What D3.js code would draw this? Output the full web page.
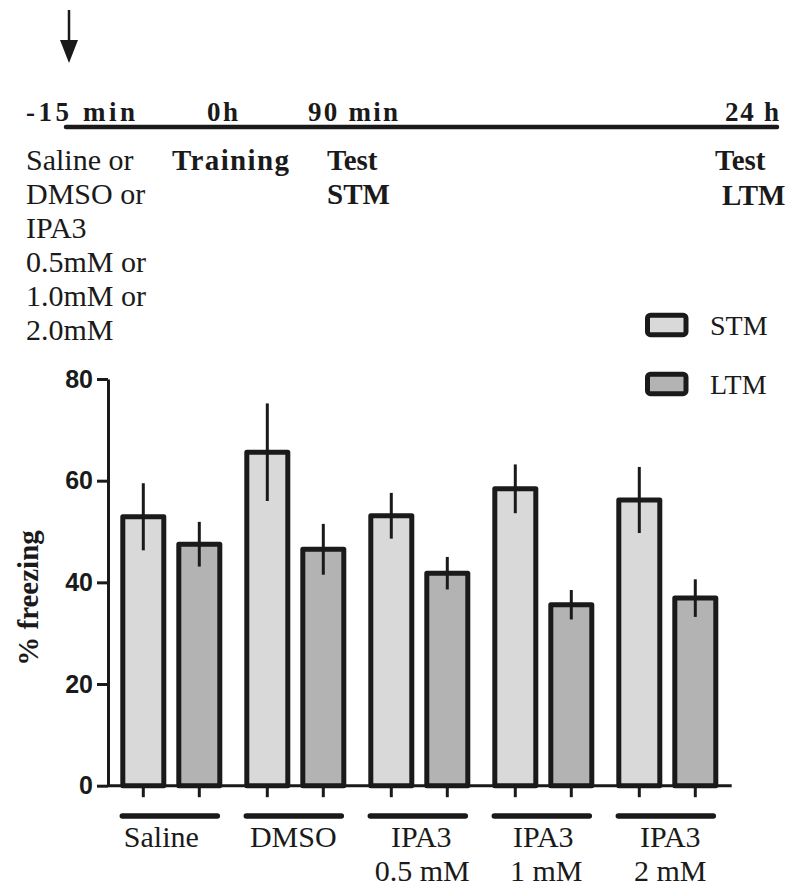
<!DOCTYPE html>
<html>
<head>
<meta charset="utf-8">
<script src="https://cdn.jsdelivr.net/npm/d3@7"></script>
<style>
  html, body { margin: 0; padding: 0; background: #ffffff; }
  svg { display: block; }
</style>
</head>
<body>
<svg id="chart" width="792" height="891"></svg>
<script>
// ---------- data ----------
const groups = ["Saline", "DMSO", "IPA3 0.5 mM", "IPA3 1 mM", "IPA3 2 mM"];
const groupLine1 = ["Saline", "DMSO", "IPA3", "IPA3", "IPA3"];
const groupLine2 = ["", "", "0.5 mM", "1 mM", "2 mM"];
const series = ["STM", "LTM"];
const stmMean = [52.9, 65.6, 53.1, 58.4, 56.2];
const stmSem  = [6.6, 9.6, 4.5, 4.8, 6.5];
const ltmMean = [47.5, 46.5, 41.8, 35.6, 36.9];
const ltmSem  = [4.4, 5.0, 3.2, 2.9, 3.7];
const yTicks = [0, 20, 40, 60, 80];
const yLabel = "% freezing";

// timeline texts
const timeMarks = ["-15 min", "0h", "90 min", "24 h"];
const treatmentLines = ["Saline or", "DMSO or", "IPA3", "0.5mM or", "1.0mM or", "2.0mM"];

const serif = "'Liberation Serif', 'Times New Roman', Times, serif";
const sans = "'Liberation Sans', Arial, Helvetica, sans-serif";
const fills = { STM: "#d9d9d9", LTM: "#b3b3b3" };
const ink = "#1a1a1a";

const svg = d3.select("#chart");

// ---------- timeline schematic ----------
const tl = svg.append("g");
tl.append("line").attr("x1", 69).attr("x2", 69).attr("y1", 10).attr("y2", 44)
  .attr("stroke", ink).attr("stroke-width", 2.5);
tl.append("path").attr("d", "M60,40 L78,40 L69,63 Z").attr("fill", ink);
tl.append("line").attr("x1", 66).attr("x2", 777).attr("y1", 127).attr("y2", 127)
  .attr("stroke", ink).attr("stroke-width", 4.5).attr("stroke-linecap", "round");

const markPos = [
  {x: 26, len: 109},
  {x: 207, len: 31},
  {x: 308, len: 90},
  {x: 725, len: 54}
];
tl.selectAll("text.mark").data(timeMarks).join("text")
  .attr("class", "mark")
  .attr("x", (d, i) => markPos[i].x).attr("y", 121)
  .attr("textLength", (d, i) => markPos[i].len)
  .attr("lengthAdjust", "spacing")
  .attr("font-family", serif).attr("font-weight", "bold").attr("font-size", 27)
  .attr("fill", ink)
  .text(d => d);

tl.selectAll("text.treat").data(treatmentLines).join("text")
  .attr("class", "treat")
  .attr("x", 26).attr("y", (d, i) => 170 + i * 34)
  .attr("font-family", serif).attr("font-size", 30).attr("fill", ink)
  .text(d => d);

const boldNotes = [
  {t: "Training", x: 172, y: 170, len: 117},
  {t: "Test", x: 327, y: 170},
  {t: "STM", x: 327, y: 204},
  {t: "Test", x: 715, y: 170},
  {t: "LTM", x: 722, y: 205}
];
boldNotes.forEach(n => {
  const t = tl.append("text").attr("x", n.x).attr("y", n.y)
    .attr("font-family", serif).attr("font-weight", "bold").attr("font-size", 29)
    .attr("fill", ink).text(n.t);
  if (n.len) t.attr("textLength", n.len).attr("lengthAdjust", "spacing");
});

// ---------- bar chart ----------
const y = d3.scaleLinear().domain([0, 80]).range([785.7, 379]);
const x0 = d3.scaleBand().domain(groups).range([109.3, 729.3]).padding(0);
const x1 = d3.scalePoint().domain(series).range([34, 90]);
const barW = 41;
const labelShift = [-10, -2, 2, 0, 3];

const data = groups.map((g, i) => ({
  group: g,
  values: [
    {s: "STM", mean: stmMean[i], sem: stmSem[i]},
    {s: "LTM", mean: ltmMean[i], sem: ltmSem[i]}
  ]
}));

const gGroups = svg.append("g").selectAll("g").data(data).join("g")
  .attr("transform", d => `translate(${x0(d.group)},0)`);

gGroups.selectAll("rect").data(d => d.values).join("rect")
  .attr("x", d => x1(d.s) - barW / 2)
  .attr("width", barW)
  .attr("y", d => y(d.mean))
  .attr("height", d => y(0) - y(d.mean))
  .attr("fill", d => fills[d.s])
  .attr("stroke", ink).attr("stroke-width", 5).attr("stroke-linejoin", "round");

gGroups.selectAll("line.err").data(d => d.values).join("line")
  .attr("class", "err")
  .attr("x1", d => x1(d.s)).attr("x2", d => x1(d.s))
  .attr("y1", d => y(d.mean + d.sem)).attr("y2", d => y(d.mean - d.sem))
  .attr("stroke", ink).attr("stroke-width", 3);

gGroups.selectAll("line.tick").data(d => d.values).join("line")
  .attr("class", "tick")
  .attr("x1", d => x1(d.s)).attr("x2", d => x1(d.s))
  .attr("y1", y(0)).attr("y2", y(0) + 11.5)
  .attr("stroke", ink).attr("stroke-width", 3);

gGroups.append("line")
  .attr("x1", 13).attr("x2", 108).attr("y1", 816).attr("y2", 816)
  .attr("stroke", ink).attr("stroke-width", 5.5).attr("stroke-linecap", "round");

gGroups.append("text")
  .attr("x", (d, i) => x0.bandwidth() / 2 + labelShift[i]).attr("y", 847)
  .attr("text-anchor", "middle")
  .attr("font-family", serif).attr("font-size", 30).attr("fill", ink)
  .text((d, i) => groupLine1[i]);
gGroups.append("text")
  .attr("x", (d, i) => x0.bandwidth() / 2 + 3).attr("y", 881)
  .attr("text-anchor", "middle")
  .attr("font-family", serif).attr("font-size", 30).attr("fill", ink)
  .text((d, i) => groupLine2[i]);

svg.append("line")
  .attr("x1", 108).attr("x2", 731.7).attr("y1", y(0)).attr("y2", y(0))
  .attr("stroke", ink).attr("stroke-width", 3);

const yAxis = svg.append("g").attr("transform", "translate(108,0)")
  .call(d3.axisLeft(y).tickValues(yTicks).tickSize(11).tickSizeOuter(0).tickPadding(4));
yAxis.select(".domain").attr("stroke", ink).attr("stroke-width", 3);
yAxis.selectAll(".tick line").attr("stroke", ink).attr("stroke-width", 3);
yAxis.selectAll(".tick text")
  .attr("font-family", sans).attr("font-weight", "bold").attr("font-size", 25)
  .attr("fill", ink);

svg.append("text")
  .attr("transform", "translate(38,598) rotate(-90)")
  .attr("text-anchor", "middle")
  .attr("font-family", serif).attr("font-weight", "bold").attr("font-size", 29)
  .attr("fill", ink)
  .text(yLabel);

const legend = svg.append("g").selectAll("g").data(series).join("g")
  .attr("transform", (d, i) => `translate(0,${i * 59})`);
legend.append("rect")
  .attr("x", 647.5).attr("y", 315.2).attr("width", 38.5).attr("height", 19.5)
  .attr("rx", 3).attr("ry", 3)
  .attr("fill", d => fills[d]).attr("stroke", ink).attr("stroke-width", 5);
legend.append("text")
  .attr("x", 710).attr("y", 335)
  .attr("font-family", serif).attr("font-size", 28).attr("fill", ink)
  .text(d => d);
</script>
</body>
</html>
